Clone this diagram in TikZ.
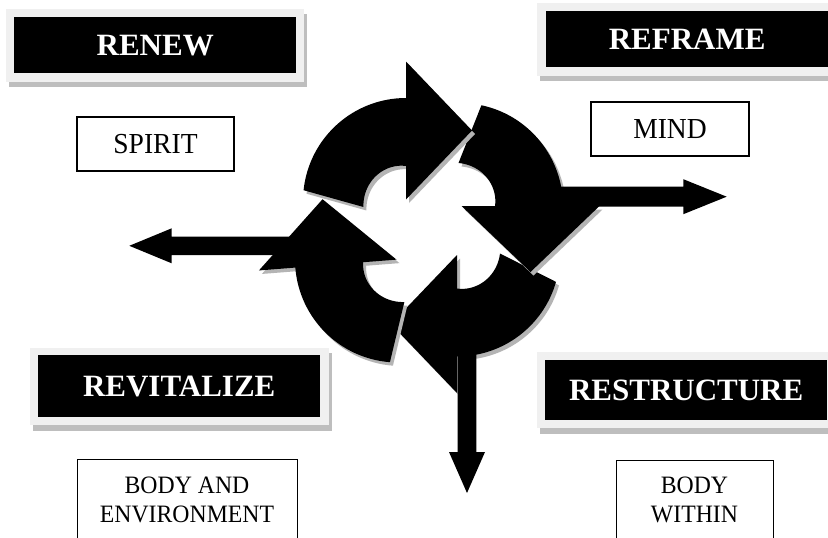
\documentclass[tikz,border=0pt]{standalone}
\usepackage{fontspec}
\setmainfont{Liberation Serif}
\usepackage{graphicx}
\definecolor{framegray}{HTML}{F0F0F0}
\definecolor{boxshadow}{HTML}{BEBEBE}
\definecolor{pieceshadow}{HTML}{B4B4B4}
% #1 x, #2 y (screen), #3 rotation, #4 outer cut angle, #5 inner cut angle, #6 colour
\newcommand\cycpiece[6]{%
  \fill[#6, shift={(#1,#2)}, x=1pt, y=1pt, rotate=#3]
    (#4:103) arc[start angle=#4, end angle=90, radius=103]
    -- (0,139.5) -- (66,70.5) -- (0,1.5) -- (0,35)
    -- plot[domain=90:#5, samples=30] (\x:{35+8*(\x-90)/(#5-90)}) -- cycle;}
\begin{document}
\begin{tikzpicture}[x=1pt,y=-1pt,
  hdr/.style={fill=black, text=white, inner sep=0pt, minimum width=282pt,
    font=\fontsize{31}{37}\selectfont\bfseries, anchor=north west},
  lbl/.style={draw=black, line width=1.2pt, fill=white, inner sep=0pt,
    font=\fontsize{29}{34}\selectfont},
  openbox/.style={draw=black, line width=1.2pt, inner sep=0pt, anchor=north west},
  smalltxt/.style={inner sep=0pt, anchor=base, font=\fontsize{25}{30}\selectfont}]
\path[use as bounding box] (0,0) rectangle (828,538);
\clip (0,0) rectangle (828,538);
\fill[white] (0,0) rectangle (828,538);

% header boxes
\fill[boxshadow] (9,14) rectangle (307,87);
\fill[framegray] (6,9) rectangle (304,82);
\node[hdr, minimum height=56pt] (renew) at (14,17) {RENEW};

\fill[boxshadow] (540,8) rectangle (845,81);
\fill[framegray] (537,3) rectangle (842,76);
\node[hdr, minimum height=56pt] (reframe) at (546,11) {REFRAME};

\fill[boxshadow] (33,353) rectangle (332,431);
\fill[framegray] (30,348) rectangle (329,425);
\node[hdr, minimum height=62pt] (revitalize) at (38,355) {REVITALIZE};

\fill[boxshadow] (540,357) rectangle (845,434);
\fill[framegray] (537,352) rectangle (842,428);
\node[hdr, minimum height=60pt] (restructure) at (545,360) {RESTRUCTURE};

% label boxes
\node[lbl, minimum width=157pt, minimum height=54pt] (spirit) at (155.5,144) {\scalebox{0.95}[1]{SPIRIT}};
\node[lbl, minimum width=158pt, minimum height=54pt] (mind) at (670,129) {\scalebox{0.95}[1]{MIND}};

\node[openbox, minimum width=220pt, minimum height=110pt] (bodyenv) at (77,459) {};
\node[smalltxt] (bodyand) at (187,493.3) {\scalebox{0.95}[1]{BODY AND}};
\node[smalltxt] (environment) at (187,522.3) {\scalebox{0.95}[1]{ENVIRONMENT}};

\node[openbox, minimum width=157pt, minimum height=110pt] (bodywithin) at (616,460) {};
\node[smalltxt] (body) at (694.5,493.3) {\scalebox{0.95}[1]{BODY}};
\node[smalltxt] (within) at (694.5,522.3) {\scalebox{0.95}[1]{WITHIN}};

% cycle pieces (shadow then piece)
\cycpiece{460}{257}{180}{164}{180}{pieceshadow}
\cycpiece{457}{253.5}{180}{164}{180}{black}
\cycpiece{401}{263}{94.5}{171}{184}{pieceshadow}
\cycpiece{398}{259.5}{94.5}{171}{184}{black}
\cycpiece{463}{209.5}{-90}{168}{182}{pieceshadow}
\cycpiece{460}{206}{-90}{168}{182}{black}
\cycpiece{409}{204.5}{0}{174}{188}{pieceshadow}
\cycpiece{406}{201}{0}{174}{188}{black}

% straight block arrows
\coordinate (leftstart) at (300,245.8);
\coordinate (lefttip) at (129.3,245.8);
\fill[black] (300,236.6) -- (171.7,236.6) -- (171.7,228.3) -- (lefttip)
  -- (171.7,263.3) -- (171.7,255) -- (300,255) -- cycle;
\coordinate (righttip) at (726.7,196.7);
\fill[black] (545,186.7) -- (683.3,186.7) -- (683.3,179.2) -- (righttip)
  -- (683.3,214.2) -- (683.3,206.7) -- (545,206.7) -- cycle;
\coordinate (downtip) at (467,493);
\fill[black] (457.7,330) -- (457.7,452) -- (449,452) -- (downtip)
  -- (485,452) -- (476.3,452) -- (476.3,330) -- cycle;
\end{tikzpicture}
\end{document}
